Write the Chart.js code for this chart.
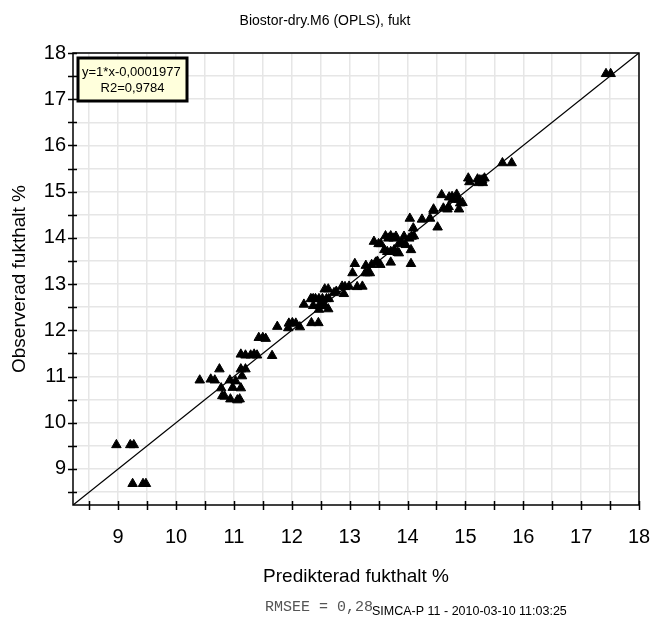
<!DOCTYPE html>
<html>
<head>
<meta charset="utf-8">
<script src="https://cdn.jsdelivr.net/npm/chart.js@4.4.1/dist/chart.umd.min.js"></script>
<style>
body { margin: 0; background: #fff; }
canvas { display: block; }
</style>
</head>
<body>
<canvas id="myChart" width="651" height="625"></canvas>
<script>
const predicted = [
  8.97, 9.21, 9.27, 9.25, 9.43, 9.48,
  10.41, 10.60, 10.67, 10.75, 10.78, 10.80, 10.84, 10.93, 10.94, 10.98, 11.03, 11.06, 11.10, 11.12, 11.12, 11.14, 11.20,
  11.12, 11.20, 11.29, 11.35, 11.40,
  11.43, 11.50, 11.55, 11.66, 11.75,
  11.95, 12.01, 12.07, 11.94, 12.14, 12.34, 12.46, 12.21,
  12.33, 12.37, 12.41, 12.47, 12.53, 12.60, 12.64,
  12.37, 12.47, 12.52, 12.57, 12.47, 12.63,
  12.57, 12.63, 12.73, 12.77, 12.87, 12.92, 12.90, 12.99, 13.13, 13.22,
  13.05, 13.09, 13.28, 13.27, 13.31, 13.35,
  13.38, 13.45, 13.48, 13.53, 13.71, 14.06,
  13.42, 13.50, 13.54, 13.62, 13.67, 13.71, 13.76, 13.80,
  13.60, 13.65, 13.71, 13.77, 13.83, 13.85,
  13.85, 13.90, 13.94, 13.97, 14.06,
  14.03, 14.07, 14.11, 14.10,
  14.04, 14.25, 14.39, 14.45, 14.52, 14.45,
  14.59, 14.62, 14.69, 14.71,
  14.72, 14.77, 14.78, 14.85, 14.88, 14.91, 14.95, 14.89,
  15.05, 15.07, 15.21, 15.25, 15.29, 15.33, 15.23, 15.30,
  15.64, 15.80, 17.43, 17.51
];
const observed = [
  9.52, 9.52, 9.52, 8.68, 8.68, 8.68,
  10.92, 10.94, 10.92, 11.16, 10.75, 10.58, 10.57, 10.92, 10.51, 10.76, 10.90, 10.49, 10.51, 10.75, 11.16, 11.01, 11.16,
  11.48, 11.46, 11.46, 11.48, 11.46,
  11.84, 11.84, 11.82, 11.45, 12.08,
  12.15, 12.16, 12.15, 12.05, 12.07, 12.16, 12.16, 12.56,
  12.68, 12.68, 12.68, 12.68, 12.68, 12.68, 12.68,
  12.53, 12.53, 12.53, 12.53, 12.45, 12.46,
  12.89, 12.89, 12.81, 12.84, 12.95, 12.94, 12.79, 12.95, 12.94, 12.95,
  13.24, 13.44, 13.40, 13.24, 13.24, 13.24,
  13.42, 13.47, 13.49, 13.42, 13.47, 13.44,
  13.92, 13.87, 13.87, 14.04, 13.99, 14.04, 13.99, 14.03,
  13.74, 13.70, 13.70, 13.74, 13.68, 13.67,
  13.87, 13.90, 14.03, 13.85, 13.74,
  13.99, 14.03, 14.04, 14.21,
  14.42, 14.40, 14.42, 14.59, 14.23, 14.62,
  14.93, 14.64, 14.62, 14.67,
  14.88, 14.89, 14.83, 14.94, 14.83, 14.75, 14.76, 14.62,
  15.29, 15.21, 15.27, 15.25, 15.25, 15.29, 15.19, 15.19,
  15.62, 15.62, 17.55, 17.55
];

const axisMin = 8.22;
const axisMax = 18;
const tickValues = [8.5, 9, 9.5, 10, 10.5, 11, 11.5, 12, 12.5, 13, 13.5, 14, 14.5, 15, 15.5, 16, 16.5, 17, 17.5, 18];

const fitSlope = 1;
const fitIntercept = -0.0001977;
const legendLines = ['y=1*x-0,0001977', 'R2=0,9784'];

const chartTitle = 'Biostor-dry.M6 (OPLS), fukt';
const xTitle = 'Predikterad fukthalt %';
const yTitle = 'Observerad fukthalt %';
const rmseeText = 'RMSEE = 0,28';
const footerText = 'SIMCA-P 11 - 2010-03-10 11:03:25';

const FONT = '"Liberation Sans", Arial, sans-serif';

const points = predicted.map((p, i) => ({ x: p, y: observed[i] }));
const fitLine = [
  { x: axisMin, y: fitSlope * axisMin + fitIntercept },
  { x: axisMax, y: fitSlope * axisMax + fitIntercept }
];

function noPadding(s) {
  s.paddingLeft = 0; s.paddingRight = 0; s.paddingTop = 0; s.paddingBottom = 0;
}

const decorations = {
  id: 'decorations',
  afterDatasetsDraw(chart) {
    const ctx = chart.ctx;
    const a = chart.chartArea;
    const xs = chart.scales.x, ys = chart.scales.y;
    ctx.save();
    // frame
    ctx.strokeStyle = '#000';
    ctx.lineWidth = 1.5;
    ctx.strokeRect(a.left, a.top, a.right - a.left, a.bottom - a.top);
    // tick marks crossing the axes
    ctx.beginPath();
    tickValues.forEach(v => {
      const px = Math.round(xs.getPixelForValue(v)) + 0.5;
      ctx.moveTo(px, a.bottom - 4);
      ctx.lineTo(px, a.bottom + 5);
      const py = Math.round(ys.getPixelForValue(v)) + 0.5;
      ctx.moveTo(a.left - 5, py);
      ctx.lineTo(a.left + 4, py);
    });
    ctx.stroke();
    ctx.restore();
  },
  afterDraw(chart) {
    const ctx = chart.ctx;
    const a = chart.chartArea;
    ctx.save();
    ctx.fillStyle = '#000';
    // title
    ctx.font = '14px ' + FONT;
    ctx.textAlign = 'center';
    ctx.textBaseline = 'middle';
    ctx.fillText(chartTitle, 325, 21);
    // axis titles
    ctx.font = '19px ' + FONT;
    ctx.fillText(xTitle, (a.left + a.right) / 2, 577);
    ctx.save();
    ctx.translate(20, (a.top + a.bottom) / 2);
    ctx.rotate(-Math.PI / 2);
    ctx.fillText(yTitle, 0, 0);
    ctx.restore();
    // legend box
    const bx = a.left + 5, by = a.top + 5, bw = 109, bh = 43;
    ctx.fillStyle = '#ffffdc';
    ctx.fillRect(bx, by, bw, bh);
    ctx.strokeStyle = '#000';
    ctx.lineWidth = 3;
    ctx.strokeRect(bx, by, bw, bh);
    ctx.fillStyle = '#000';
    ctx.font = '13px ' + FONT;
    ctx.textAlign = 'left';
    ctx.fillText(legendLines[0], bx + 4, by + 14);
    ctx.textAlign = 'center';
    ctx.fillText(legendLines[1], bx + bw / 2, by + 30);
    // footer
    ctx.textAlign = 'left';
    ctx.textBaseline = 'alphabetic';
    ctx.font = '15px "Liberation Mono", "Courier New", monospace';
    ctx.fillStyle = '#555';
    ctx.fillText(rmseeText, 265, 611);
    ctx.font = '12.5px ' + FONT;
    ctx.fillStyle = '#000';
    ctx.fillText(footerText, 372, 615);
    ctx.restore();
  }
};

function myLoadFunction() {
  const ctx = document.getElementById('myChart').getContext('2d');
  new Chart(ctx, {
    type: 'scatter',
    data: {
      datasets: [
        {
          data: points,
          pointStyle: 'triangle',
          pointRadius: 5.5,
          backgroundColor: '#000',
          borderColor: '#000',
          borderWidth: 1
        },
        {
          type: 'line',
          data: fitLine,
          borderColor: '#000',
          borderWidth: 1.3,
          pointRadius: 0,
          fill: false
        }
      ]
    },
    options: {
      responsive: false,
      animation: false,
      devicePixelRatio: 1,
      layout: { padding: { top: 53, right: 12, bottom: 0, left: 0 } },
      plugins: { legend: { display: false }, tooltip: { enabled: false }, title: { display: false } },
      scales: {
        x: {
          type: 'linear',
          min: axisMin,
          max: axisMax,
          afterFit: s => { s.height = 120; noPadding(s); },
          afterBuildTicks: s => { s.ticks = tickValues.map(v => ({ value: v })); },
          grid: { color: '#e6e6e6', lineWidth: 1.5, drawTicks: false },
          border: { display: false },
          ticks: {
            autoSkip: false, maxRotation: 0, padding: 20, color: '#000',
            font: { family: FONT, size: 20 },
            callback: v => Number.isInteger(v) ? String(v) : ''
          }
        },
        y: {
          type: 'linear',
          min: axisMin,
          max: axisMax,
          afterFit: s => { s.width = 73; noPadding(s); },
          afterBuildTicks: s => { s.ticks = tickValues.map(v => ({ value: v })); },
          grid: { color: '#e6e6e6', lineWidth: 1.5, drawTicks: false },
          border: { display: false },
          ticks: {
            autoSkip: false, padding: 7, color: '#000',
            font: { family: FONT, size: 20 },
            callback: v => Number.isInteger(v) ? String(v) : ''
          }
        }
      }
    },
    plugins: [decorations]
  });
}
document.addEventListener('DOMContentLoaded', myLoadFunction);
</script>
</body>
</html>
